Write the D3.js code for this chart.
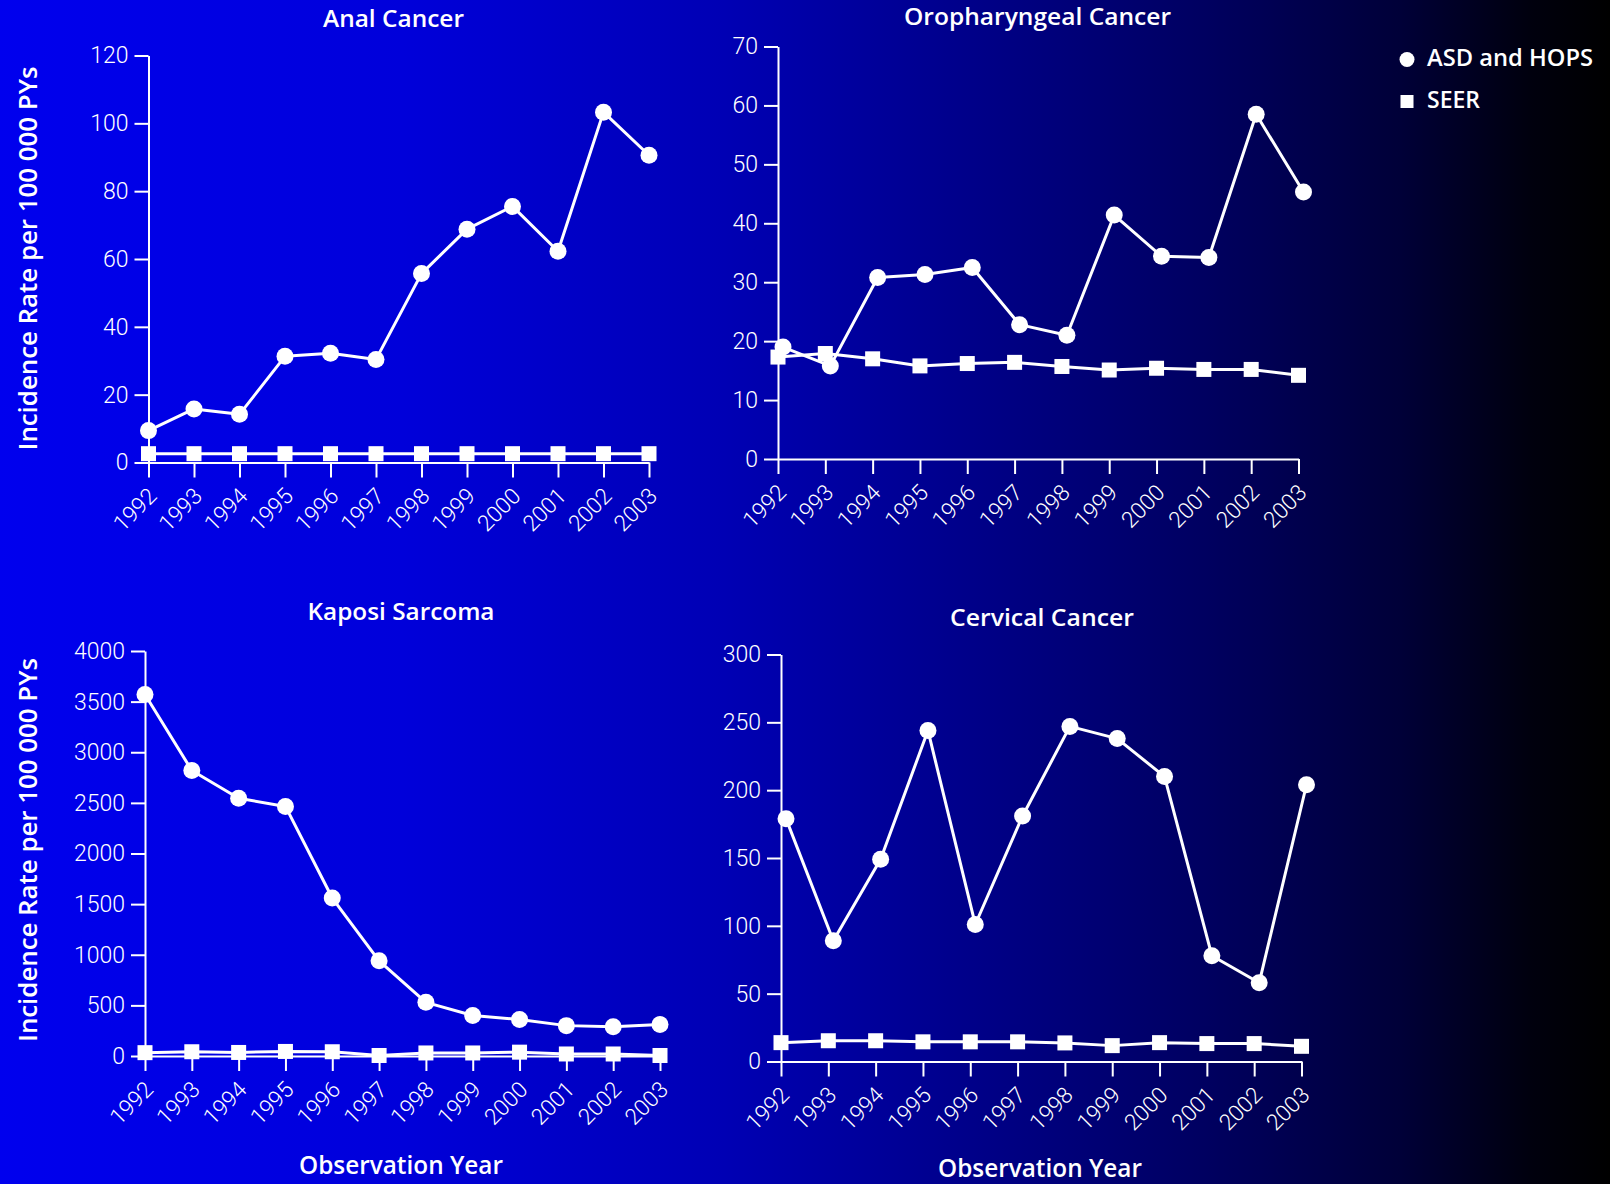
<!DOCTYPE html>
<html>
<head>
<meta charset="utf-8">
<script src="https://cdn.jsdelivr.net/npm/d3@7"></script>
<style>
  html, body { margin: 0; padding: 0; background: #000; }
  svg { display: block; }
</style>
</head>
<body>
<svg id="chart" width="1610" height="1184"></svg>
<script>
// Observation years shared by all four panels
const years = [1992, 1993, 1994, 1995, 1996, 1997, 1998, 1999, 2000, 2001, 2002, 2003];

// Incidence rates per 100 000 person-years
const analASD  = [9.4, 15.8, 14.2, 31.3, 32.2, 30.4, 55.7, 68.8, 75.5, 62.3, 103.3, 90.6];
const analSEER = [2.6, 2.6, 2.6, 2.6, 2.6, 2.6, 2.6, 2.6, 2.6, 2.6, 2.6, 2.6];

const oroASD  = [19.0, 15.8, 30.8, 31.3, 32.5, 22.8, 21.0, 41.4, 34.4, 34.2, 58.5, 45.3];
const oroSEER = [17.3, 17.9, 17.0, 15.8, 16.2, 16.4, 15.7, 15.1, 15.4, 15.2, 15.2, 14.2];

const kaposiASD  = [3570, 2820, 2545, 2465, 1560, 940, 530, 400, 360, 300, 290, 310];
const kaposiSEER = [33, 42, 35, 45, 42, 5, 30, 30, 38, 20, 20, 5];

const cervicalASD  = [179, 89, 149, 244, 101, 181, 247, 238, 210, 78, 58, 204];
const cervicalSEER = [13.9, 15.3, 15.3, 14.5, 14.5, 14.5, 13.7, 11.7, 13.9, 13.2, 13.2, 11.2];

// Y tick values per panel
const analTicks     = [0, 20, 40, 60, 80, 100, 120];
const oroTicks      = [0, 10, 20, 30, 40, 50, 60, 70];
const kaposiTicks   = [0, 500, 1000, 1500, 2000, 2500, 3000, 3500, 4000];
const cervicalTicks = [0, 50, 100, 150, 200, 250, 300];

const panelTitles  = ["Anal Cancer", "Oropharyngeal Cancer", "Kaposi Sarcoma", "Cervical Cancer"];
const legendLabels = ["ASD and HOPS", "SEER"];
const yAxisTitle   = "Incidence Rate per 100 000 PYs";
const xAxisTitle   = "Observation Year";

const svg = d3.select("#chart");
const W = 1610, H = 1184;
const ink = "#ffffff";
const labelFont = "'Open Sans', 'DejaVu Sans', sans-serif";
const tickFont = "Roboto, 'Liberation Sans', sans-serif";

// Background: bright blue fading to black towards the right
const defs = svg.append("defs");
const grad = defs.append("linearGradient")
  .attr("id", "bg").attr("x1", "0").attr("y1", "0").attr("x2", "1").attr("y2", "0");
[
  [0, "#0000ee"], [0.25, "#0000da"], [0.45, "#0000b4"], [0.6, "#00008a"],
  [0.75, "#000060"], [0.87, "#000038"], [0.95, "#00000e"], [1, "#000000"]
].forEach(([o, c]) => grad.append("stop").attr("offset", o).attr("stop-color", c));
svg.append("rect").attr("width", W).attr("height", H).attr("fill", "url(#bg)");

// Panel layout
const panels = [
  { title: panelTitles[0], asd: analASD, seer: analSEER, ticks: analTicks,
    x0: 148.5, x1: 649, yTop: 55.5, yBot: 462.5, dotDx: 0,
    tx: 393.5, ty: 27, tw: 141 },
  { title: panelTitles[1], asd: oroASD, seer: oroSEER, ticks: oroTicks,
    x0: 778, x1: 1298.5, yTop: 46.5, yBot: 459, dotDx: 5,
    tx: 1037.5, ty: 25, tw: 267 },
  { title: panelTitles[2], asd: kaposiASD, seer: kaposiSEER, ticks: kaposiTicks,
    x0: 145, x1: 660, yTop: 651, yBot: 1056, dotDx: 0,
    tx: 401, ty: 620, tw: 187 },
  { title: panelTitles[3], asd: cervicalASD, seer: cervicalSEER, ticks: cervicalTicks,
    x0: 781, x1: 1301.5, yTop: 654.5, yBot: 1061.5, dotDx: 5,
    tx: 1042, ty: 626, tw: 184 }
];

panels.forEach(p => {
  const g = svg.append("g");
  const x = d3.scalePoint().domain(years).range([p.x0, p.x1]).padding(0);
  const y = d3.scaleLinear().domain([0, d3.max(p.ticks)]).range([p.yBot, p.yTop]);

  // Title
  g.append("text")
    .attr("x", p.tx).attr("y", p.ty)
    .attr("text-anchor", "middle")
    .attr("textLength", p.tw).attr("lengthAdjust", "spacingAndGlyphs")
    .attr("fill", ink).attr("font-family", labelFont)
    .attr("font-weight", 600).attr("font-size", 24)
    .text(p.title);

  // Y axis
  const ya = g.append("g")
    .attr("transform", `translate(${p.x0},0)`)
    .call(d3.axisLeft(y).tickValues(p.ticks).tickFormat(d3.format("d"))
      .tickSize(14).tickSizeOuter(0).tickPadding(6));

  // X axis
  const xa = g.append("g")
    .attr("transform", `translate(0,${p.yBot})`)
    .call(d3.axisBottom(x).tickSize(15).tickSizeOuter(0).tickFormat(d => String(d)));

  [ya, xa].forEach(a => {
    a.select(".domain").attr("stroke", ink).attr("stroke-width", 2);
    a.selectAll(".tick line").attr("stroke", ink).attr("stroke-width", 2);
    a.selectAll(".tick text")
      .attr("fill", ink).attr("font-family", tickFont).attr("font-weight", 300);
  });
  ya.selectAll(".tick text").attr("font-size", 23);
  xa.selectAll(".tick text")
    .attr("font-size", 22.5)
    .attr("x", 0).attr("y", 0).attr("dy", 0)
    .attr("text-anchor", "end")
    .attr("transform", "translate(9,35) rotate(-45)");

  // SEER series
  const seerLine = d3.line().x((d, i) => x(years[i])).y(d => y(d));
  g.append("path").datum(p.seer)
    .attr("d", seerLine).attr("fill", "none")
    .attr("stroke", ink).attr("stroke-width", 3).attr("stroke-linejoin", "round");

  // ASD and HOPS series
  const asdLine = d3.line().x((d, i) => x(years[i]) + p.dotDx).y(d => y(d));
  g.append("path").datum(p.asd)
    .attr("d", asdLine).attr("fill", "none")
    .attr("stroke", ink).attr("stroke-width", 3).attr("stroke-linejoin", "round");

  const sq = 15;
  g.selectAll("rect.seer").data(p.seer).join("rect")
    .attr("class", "seer")
    .attr("x", (d, i) => x(years[i]) - sq / 2)
    .attr("y", d => y(d) - sq / 2)
    .attr("width", sq).attr("height", sq)
    .attr("fill", ink);

  g.selectAll("circle.asd").data(p.asd).join("circle")
    .attr("class", "asd")
    .attr("cx", (d, i) => x(years[i]) + p.dotDx)
    .attr("cy", d => y(d))
    .attr("r", 8.5)
    .attr("fill", ink);
});

// Y axis titles (left column)
[[37, 258.5], [37, 850]].forEach(([tx, ty]) => {
  svg.append("text")
    .attr("transform", `translate(${tx},${ty}) rotate(-90)`)
    .attr("text-anchor", "middle")
    .attr("textLength", 384).attr("lengthAdjust", "spacingAndGlyphs")
    .attr("fill", ink).attr("font-family", labelFont)
    .attr("font-weight", 600).attr("font-size", 26)
    .text(yAxisTitle);
});

// X axis titles (bottom row)
[[401, 1174], [1040, 1177]].forEach(([tx, ty]) => {
  svg.append("text")
    .attr("x", tx).attr("y", ty)
    .attr("text-anchor", "middle")
    .attr("textLength", 204).attr("lengthAdjust", "spacingAndGlyphs")
    .attr("fill", ink).attr("font-family", labelFont)
    .attr("font-weight", 600).attr("font-size", 25)
    .text(xAxisTitle);
});

// Legend
const legend = svg.append("g");
legend.append("circle").attr("cx", 1407).attr("cy", 59.5).attr("r", 7.5).attr("fill", ink);
legend.append("rect").attr("x", 1400.5).attr("y", 95).attr("width", 13).attr("height", 13).attr("fill", ink);
legend.selectAll("text").data(legendLabels).join("text")
  .attr("x", 1427)
  .attr("y", (d, i) => i === 0 ? 66 : 107.5)
  .attr("textLength", (d, i) => i === 0 ? 166 : 53)
  .attr("lengthAdjust", "spacingAndGlyphs")
  .attr("fill", ink).attr("font-family", labelFont)
  .attr("font-weight", 600).attr("font-size", 23)
  .text(d => d);
</script>
</body>
</html>
